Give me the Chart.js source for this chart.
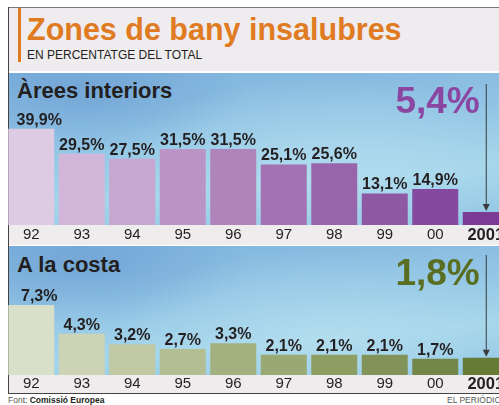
<!DOCTYPE html>
<html>
<head>
<meta charset="utf-8">
<script src="https://cdn.jsdelivr.net/npm/chart.js@4"></script>
<style>
  html, body { margin: 0; padding: 0; background: #fff; }
  body { width: 499px; height: 405px; overflow: hidden; font-family: "Liberation Sans", Arial, sans-serif; }
  #wrap { position: relative; width: 499px; height: 405px; overflow: hidden; background: #fff; }
  .abs { position: absolute; }
  .sky { left: 9px; width: 490px;
    background:
      radial-gradient(ellipse 220px 90px at 320px 95px, rgba(190,228,242,0.55), rgba(190,228,242,0) 100%),
      radial-gradient(ellipse 160px 60px at 80px 20px, rgba(95,145,205,0.45), rgba(95,145,205,0) 100%),
      linear-gradient(175deg, #7fb2dc 0%, #95c8e6 45%, #a4d5ea 70%, #8fc3e3 100%); }
  .band { left: 9px; width: 490px; background: #eeeced; }
  .panel-title { left: 17px; font-weight: bold; font-size: 22px; color: #231f20; line-height: 1; }
  canvas { position: absolute; left: 0; }
</style>
</head>
<body>
<div id="wrap">
  <div class="abs" style="left:9px;top:8px;width:490px;height:63px;background:#eeecee"></div>
  <div class="abs" style="left:8px;top:7px;width:491px;height:1px;background:#7a7a7a"></div>
  <div class="abs" style="left:18px;top:8px;width:3px;height:54px;background:#e07b22"></div>
  <div class="abs" style="left:27px;top:14px;font-size:30.5px;font-weight:bold;color:#e07b22;line-height:1;white-space:nowrap">Zones de bany insalubres</div>
  <div class="abs" style="left:27px;top:49px;font-size:12px;color:#231f20;line-height:1;white-space:nowrap">EN PERCENTATGE DEL TOTAL</div>

  <div class="abs sky" style="top:73px;height:152px"></div>
  <div class="abs band" style="top:225px;height:20px"></div>
  <div class="abs sky" style="top:246px;height:129px"></div>
  <div class="abs band" style="top:375px;height:18px"></div>
  <div class="abs" style="left:8px;top:7px;width:1px;height:387px;background:#444"></div>
  <div class="abs" style="left:8px;top:393px;width:491px;height:1px;background:#444"></div>

  <div class="abs panel-title" style="top:80px">Àrees interiors</div>
  <div class="abs panel-title" style="top:254px">A la costa</div>

  <canvas id="interiorChart" width="511" height="172" style="top:73px"></canvas>
  <canvas id="costaChart" width="511" height="147" style="top:246px"></canvas>

  <div class="abs" style="left:8px;top:396px;font-size:8.5px;color:#555;line-height:1;white-space:nowrap">Font: <b style="color:#231f20">Comissió Europea</b></div>
  <div class="abs" style="left:447px;top:396px;font-size:8.5px;color:#555;line-height:1;white-space:nowrap">EL PERIÓDICO</div>
</div>

<script>
const years = ['92', '93', '94', '95', '96', '97', '98', '99', '00', '2001'];
const interiorValues = [39.9, 29.5, 27.5, 31.5, 31.5, 25.1, 25.6, 13.1, 14.9, 5.4];
const costaValues = [7.3, 4.3, 3.2, 2.7, 3.3, 2.1, 2.1, 2.1, 1.7, 1.8];

const interiorColors = ['#dccbe2', '#d1b6d9', '#c7a6cf', '#bb94c6', '#ae84bb', '#a272b2', '#9865aa', '#8e58a3', '#8649a0', '#7c3b96'];
const costaColors = ['#d9e0ca', '#ccd4b5', '#c0c9a3', '#b3be92', '#a3b180', '#99a974', '#8d9e63', '#819358', '#738748', '#657b36'];

const FONT = '"Liberation Sans", Arial, sans-serif';

function fmt(v) {
    return v.toFixed(1).replace('.', ',') + '%';
}

const barLabels = {
    id: 'barLabels',
    afterDatasetsDraw(chart, args, opts) {
        const ctx = chart.ctx;
        const meta = chart.getDatasetMeta(0);
        const data = chart.data.datasets[0].data;
        const last = data.length - 1;
        ctx.save();
        ctx.fillStyle = '#231f20';
        ctx.font = 'bold 16px ' + FONT;
        ctx.textAlign = 'center';
        ctx.textBaseline = 'alphabetic';
        meta.data.forEach((bar, i) => {
            if (i === last) return;
            const x = i === 0 ? bar.x + 8 : bar.x;
            ctx.fillText(fmt(data[i]), x, bar.y - 4);
        });

        // big highlighted value with arrow for the last year
        const lb = meta.data[last];
        const top = chart.chartArea.top;
        ctx.fillStyle = opts.color;
        ctx.font = 'bold 37px ' + FONT;
        ctx.textAlign = 'right';
        ctx.fillText(fmt(data[last]), lb.x - 6, top + opts.textY);

        ctx.strokeStyle = '#3a3a3a';
        ctx.lineWidth = 1;
        ctx.beginPath();
        ctx.moveTo(lb.x + 0.5, top + opts.arrowY);
        ctx.lineTo(lb.x + 0.5, lb.y - 6);
        ctx.stroke();
        ctx.fillStyle = '#3a3a3a';
        ctx.beginPath();
        ctx.moveTo(lb.x - 3, lb.y - 8);
        ctx.lineTo(lb.x + 4, lb.y - 8);
        ctx.lineTo(lb.x + 0.5, lb.y - 1);
        ctx.closePath();
        ctx.fill();
        ctx.restore();
    }
};

function makeChart(id, values, colors, yMax, axisHeight, pad, bigColor, textY, arrowY) {
    return new Chart(document.getElementById(id).getContext('2d'), {
        type: 'bar',
        data: {
            labels: years,
            datasets: [{
                data: values,
                backgroundColor: colors,
                borderWidth: 0,
                barPercentage: 0.91,
                categoryPercentage: 1
            }]
        },
        options: {
            responsive: false,
            animation: false,
            devicePixelRatio: 1,
            layout: { padding: { left: 6, right: 0, top: 0, bottom: 0 } },
            plugins: {
                legend: { display: false },
                tooltip: { enabled: false },
                barLabels: { color: bigColor, textY: textY, arrowY: arrowY }
            },
            scales: {
                x: {
                    grid: { display: false, drawTicks: false, tickLength: 0 },
                    border: { display: false },
                    afterFit: (s) => { s.height = axisHeight; },
                    ticks: {
                        color: '#231f20',
                        padding: pad,
                        autoSkip: false,
                        maxRotation: 0,
                        font: (c) => c.index === 9
                            ? { family: FONT, size: 16.5, weight: 'bold' }
                            : { family: FONT, size: 15, weight: 'normal' }
                    }
                },
                y: { display: false, min: 0, max: yMax }
            }
        },
        plugins: [barLabels]
    });
}

makeChart('interiorChart', interiorValues, interiorColors, 63, 20, 1, '#8a46a0', 40, 11);
makeChart('costaChart', costaValues, costaColors, 13.44, 18, 0, '#5a6e22', 39, 9);
</script>
</body>
</html>
